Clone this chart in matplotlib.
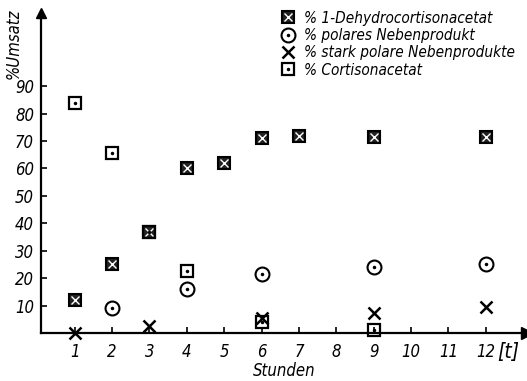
import matplotlib.pyplot as plt
from matplotlib.legend_handler import HandlerTuple

# Data
dehydro_t = [1, 2, 3, 4, 5, 6, 7, 9, 12]
dehydro = [12, 25, 37, 60, 62, 71, 72, 71.5, 71.5]
polar_t = [2, 4, 6, 9, 12]
polar = [9, 16, 21.5, 24, 25]
strong_t = [1, 3, 6, 9, 12]
strong = [0, 2.5, 5.5, 7.3, 9.5]
cortison_t = [1, 2, 3, 4, 6, 9]
cortison = [84, 65.5, 37, 22.5, 4, 1]
xticks = list(range(1, 13))
yticks = [10, 20, 30, 40, 50, 60, 70, 80, 90]

plt.rcParams['font.family'] = ['DejaVu Sans']
plt.rcParams['font.style'] = 'italic'
plt.rcParams['font.stretch'] = 'condensed'

fig = plt.figure(figsize=(5.27, 3.81), dpi=100)
ax = fig.add_axes([41 / 527, 1 - 333 / 381, 1 - 41 / 527, (333 - 13) / 381])
ax.set_xlim(0.1, 13.1)
ax.set_ylim(0, 116.7)

for s in ['top', 'right']:
    ax.spines[s].set_visible(False)
for s in ['left', 'bottom']:
    ax.spines[s].set_linewidth(1.6)
ax.plot(1, 0, '>k', ms=8, transform=ax.transAxes, clip_on=False)
ax.plot(0, 1, '^k', ms=7, transform=ax.transAxes, clip_on=False)

ax.set_xticks(xticks)
ax.set_yticks(yticks)
ax.tick_params(direction='in', length=4, width=1.2, labelsize=12)
ax.tick_params(axis='x', pad=7)
ax.tick_params(axis='y', pad=5)

kw = dict(linestyle='none', color='black')
# 1-Dehydrocortisonacetat: crossed square
d1, = ax.plot(dehydro_t, dehydro, marker='s', ms=8.5, mfc='#222222', mec='black', mew=1.5, **kw)
d2, = ax.plot(dehydro_t, dehydro, marker='x', ms=5.5, mec='white', mew=1.0, **kw)
# polar by-product: circle with dot
p1, = ax.plot(polar_t, polar, marker='o', ms=10, mfc='none', mec='black', mew=1.5, **kw)
p2, = ax.plot(polar_t, polar, marker='.', ms=3, **kw)
# strongly polar by-products: x
s1, = ax.plot(strong_t, strong, marker='x', ms=8, mew=1.8, clip_on=False, **kw)
# Cortisonacetat: square with dot
c1, = ax.plot(cortison_t, cortison, marker='s', ms=8.5, mfc='none', mec='black', mew=1.6, clip_on=False, **kw)
c2, = ax.plot(cortison_t, cortison, marker='.', ms=3, clip_on=False, **kw)

ax.legend([(d1, d2), (p1, p2), (s1,), (c1, c2)],
          ['% 1-Dehydrocortisonacetat', '% polares Nebenprodukt',
           '% stark polare Nebenprodukte', '% Cortisonacetat'],
          handler_map={tuple: HandlerTuple(ndivide=1)},
          loc='upper left', bbox_to_anchor=(0.465, 1.05), frameon=False,
          fontsize=11, handlelength=1.0, handletextpad=0.5, labelspacing=0.15)

ax.set_ylabel('%Umsatz', fontsize=12)
ax.yaxis.set_label_coords(-0.038, 0.905)
ax.set_xlabel('Stunden', fontsize=12, labelpad=1)
fig.text(497 / 527, 1 - 352 / 381, '[t]', fontsize=15, ha='left', va='center')

fig.savefig('out.png', dpi=100)
